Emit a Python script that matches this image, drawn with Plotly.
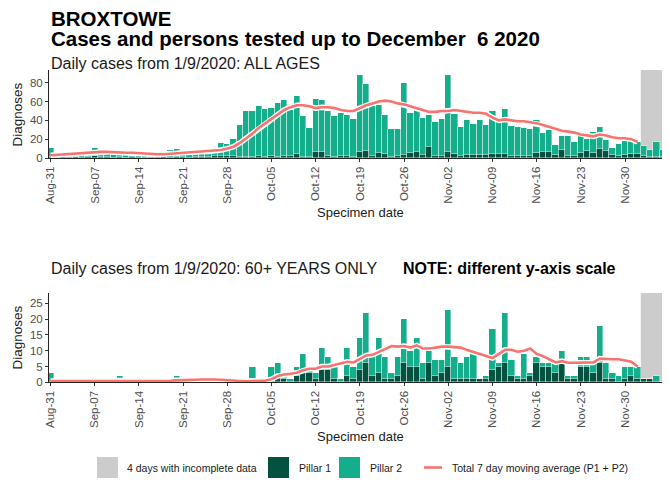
import pandas as pd
import plotly.graph_objects as go

# ---------------- data ----------------
dates = pd.date_range("2020-08-31", "2020-12-06", freq="D")
avg_dates = pd.date_range("2020-08-31", "2020-12-02", freq="D")

tick_dates = pd.date_range("2020-08-31", "2020-12-07", freq="7D")
tick_labels = [d.strftime("%b-%d") for d in tick_dates]

# All ages
all_p1 = [1, 0, 1, 0, 1, 0, 1,
          2, 1, 1, 0, 1, 0, 1,
          0, 0, 0, 0, 1, 0, 1,
          1, 0, 1, 1, 1, 2, 2,
          2, 2, 1, 1, 1, 2, 1,
          2, 1, 2, 2, 4, 1, 1,
          6, 6, 2, 1, 2, 2, 1,
          6, 7, 2, 5, 4, 1, 2,
          3, 5, 6, 3, 12, 2, 2,
          6, 4, 2, 3, 3, 3, 3,
          4, 4, 4, 2, 2, 2, 2,
          5, 6, 6, 3, 8, 2, 2,
          5, 7, 5, 10, 7, 3, 2,
          3, 4, 4, 2, 1, 1, 1]
all_p2 = [10, 4, 3, 5, 4, 6, 4,
          9, 4, 5, 4, 4, 3, 3,
          3, 3, 4, 3, 3, 9, 9,
          3, 5, 5, 5, 6, 6, 14,
          13, 18, 34, 49, 49, 53, 51,
          51, 57, 60, 49, 62, 44, 31,
          57, 56, 48, 44, 46, 44, 40,
          82, 72, 53, 51, 42, 30, 29,
          77, 43, 49, 39, 34, 36, 39,
          82, 43, 31, 37, 33, 37, 32,
          46, 34, 48, 32, 31, 30, 29,
          35, 21, 24, 11, 15, 21, 15,
          18, 13, 23, 23, 12, 8, 13,
          15, 14, 13, 11, 7, 16, 7]
all_avg = [3, 3.5, 4, 4.5, 5, 5.5, 6,
           6.5, 6.5, 6.5, 6, 5.5, 5.5, 5.5,
           5, 4.5, 4, 4, 4, 4.5, 5,
           5.5, 5.5, 6, 6.5, 7, 7.5, 8.5,
           10, 12, 16, 21, 26, 32, 37,
           42, 47, 51, 54, 56, 56, 55,
           53, 54, 54, 53, 51, 50, 50,
           53, 56, 58, 60, 61, 60, 58,
           57, 55, 53, 51, 49, 49, 50,
           50, 51, 50, 49, 48, 48, 47,
           43, 40, 41, 40, 39, 39, 38,
           37, 35, 33, 31, 29, 28, 27,
           25, 24, 23, 25, 24, 22, 21,
           21, 20, 17]

# 60+ years
old_p1 = [0, 0, 0, 0, 0, 0, 0,
          0, 0, 0, 0, 0, 0, 0,
          0, 0, 0, 0, 0, 0, 0,
          0, 0, 0, 0, 0, 0, 0,
          0, 0, 0, 0, 0, 0, 0,
          1, 2, 1, 0, 2, 3, 3,
          1, 4, 4, 1, 0, 2, 1,
          4, 6, 2, 3, 1, 1, 2,
          6, 5, 5, 1, 6, 2, 3,
          5, 1, 1, 1, 1, 1, 1,
          4, 5, 6, 2, 1, 1, 2,
          6, 5, 5, 3, 6, 1, 1,
          5, 5, 3, 6, 1, 1, 0,
          1, 2, 1, 1, 1, 0, 0]
old_p2 = [3, 0, 0, 1, 0, 0, 0,
          0, 1, 0, 0, 2, 0, 0,
          0, 1, 0, 0, 1, 0, 2,
          0, 1, 1, 1, 1, 0, 1,
          0, 0, 0, 0, 5, 0, 0,
          4, 4, 1, 1, 3, 6, 1,
          2, 7, 4, 4, 1, 9, 4,
          10, 16, 7, 11, 7, 2, 6,
          14, 5, 9, 5, 4, 5, 4,
          18, 7, 5, 7, 8, 0, 1,
          13, 1, 16, 5, 1, 8, 1,
          2, 1, 1, 3, 4, 1, 1,
          3, 3, 3, 12, 5, 2, 2,
          4, 3, 4, 0, 0, 2, 0]
old_avg = [0.4, 0.4, 0.4, 0.5, 0.5, 0.5, 0.5,
           0.4, 0.3, 0.3, 0.3, 0.4, 0.4, 0.4,
           0.4, 0.4, 0.4, 0.4, 0.5, 0.5, 0.6,
           0.6, 0.7, 0.8, 0.9, 1.0, 0.9, 0.8,
           0.6, 0.5, 0.4, 0.3, 0.5, 0.5, 0.5,
           1.0, 2.0, 2.5, 2.7, 3.0, 3.8, 4.3,
           4.3, 5.0, 5.0, 5.5, 6.0, 6.5, 6.3,
           7.5, 8.5, 8.7, 9.5, 10.5, 11.5, 11.3,
           11.5, 11.0, 11.7, 10.7, 10.7, 11.0, 11.3,
           11.3, 11.2, 11.0, 10.2, 9.5, 9.0, 8.3,
           7.7, 9.0, 10.3, 10.3, 9.7, 10.0, 10.7,
           9.0, 8.3, 7.3, 6.3, 6.7, 6.2, 6.2,
           6.3, 6.3, 6.3, 7.5, 7.3, 7.3, 7.3,
           7.0, 6.5, 5.0]

incomplete_start = "2020-12-02 12:00"
incomplete_end = "2020-12-06 12:00"

# ---------------- styling ----------------
OFF = 8                      # page body margin in the browser
W, H = 670 - OFF, 485 - OFF  # visible figure size
C_P1 = "#03523F"
C_P2 = "#14AE8C"
C_LINE = "#F8736E"
C_GREY = "#CCCCCC"
FONT = "Liberation Sans, Arial, sans-serif"
TXT = "#4D4D4D"
DARK = "#1a1a1a"


def px(x):
    return (x - OFF) / W


def py(y):
    return 1 - (y - OFF) / H


fig = go.Figure()

for p1, p2, avg, xa, ya in [(all_p1, all_p2, all_avg, "x", "y"),
                            (old_p1, old_p2, old_avg, "x2", "y2")]:
    fig.add_trace(go.Bar(x=dates, y=p1, marker=dict(color=C_P1, line=dict(color="white", width=0.4)),
                         xaxis=xa, yaxis=ya, showlegend=False, name="Pillar 1"))
    fig.add_trace(go.Bar(x=dates, y=p2, marker=dict(color=C_P2, line=dict(color="white", width=0.4)),
                         xaxis=xa, yaxis=ya, showlegend=False, name="Pillar 2"))
    fig.add_trace(go.Scatter(x=avg_dates, y=avg, mode="lines", line=dict(color="white", width=5.5),
                             xaxis=xa, yaxis=ya, showlegend=False, hoverinfo="skip"))
    fig.add_trace(go.Scatter(x=avg_dates, y=avg, mode="lines", line=dict(color=C_LINE, width=2.6),
                             xaxis=xa, yaxis=ya, showlegend=False,
                             name="Total 7 day moving average (P1 + P2)"))

x_range = ["2020-08-30 18:00", "2020-12-07 03:00"]
xcommon = dict(range=x_range, tickvals=tick_dates, ticktext=tick_labels, tickangle=-90,
               ticks="outside", ticklen=3, tickcolor="#333333", showline=True, linecolor="#222222",
               linewidth=1, showgrid=False, zeroline=False, ticklabeloverflow="allow",
               tickfont=dict(family=FONT, size=11.5, color=TXT), automargin=False)
ycommon = dict(ticks="outside", ticklen=3, tickcolor="#333333", showline=True, linecolor="#222222",
               linewidth=1, showgrid=False, zeroline=False,
               tickfont=dict(family=FONT, size=11.5, color=TXT), automargin=False)

fig.update_layout(
    width=W, height=H,
    margin=dict(l=0, r=0, t=0, b=0),
    paper_bgcolor="white", plot_bgcolor="white",
    barmode="stack", bargap=0,
    showlegend=False,
    xaxis=dict(domain=[px(49), 1], anchor="y", **xcommon),
    yaxis=dict(domain=[py(158), py(70)], anchor="x", range=[0, 93.5],
               tickvals=[0, 20, 40, 60, 80], **ycommon),
    xaxis2=dict(domain=[px(49), 1], anchor="y2", **xcommon),
    yaxis2=dict(domain=[py(382.3), py(293)], anchor="x2", range=[0, 28.3],
                tickvals=[0, 5, 10, 15, 20, 25], **ycommon),
)

shapes = []
for xr, yr in [("x", "y domain"), ("x2", "y2 domain")]:
    shapes.append(dict(type="rect", xref=xr, yref=yr, x0=incomplete_start, x1=incomplete_end,
                       y0=0, y1=1, fillcolor=C_GREY, line=dict(width=0), layer="below"))

# legend (manual)
leg_y0, leg_y1 = 457, 478
shapes.append(dict(type="rect", xref="paper", yref="paper", x0=px(97), x1=px(118),
                   y0=py(leg_y1), y1=py(leg_y0), fillcolor=C_GREY, line=dict(width=0)))
shapes.append(dict(type="rect", xref="paper", yref="paper", x0=px(268), x1=px(289),
                   y0=py(leg_y1), y1=py(leg_y0), fillcolor=C_P1, line=dict(width=0)))
shapes.append(dict(type="rect", xref="paper", yref="paper", x0=px(339), x1=px(360),
                   y0=py(leg_y1), y1=py(leg_y0), fillcolor=C_P2, line=dict(width=0)))
shapes.append(dict(type="line", xref="paper", yref="paper", x0=px(424), x1=px(442),
                   y0=py(467.5), y1=py(467.5), line=dict(color=C_LINE, width=2.6)))
fig.update_layout(shapes=shapes)

ann = []


def text(x, y, s, size, bold=False, xanchor="left", angle=0, color="black"):
    ann.append(dict(xref="paper", yref="paper", x=px(x), y=py(y), text=f"<b>{s}</b>" if bold else s,
                    showarrow=False, xanchor=xanchor, yanchor="middle", textangle=angle,
                    font=dict(family=FONT, size=size, color=color)))


text(49, 18, "BROXTOWE", 20.5, bold=True)
text(49, 38.5, "Cases and persons tested up to December\u00a0 6 2020", 20.5, bold=True)
text(49, 63, "Daily cases from 1/9/2020: ALL AGES", 16, color=DARK)
text(49, 268, "Daily cases from 1/9/2020: 60+ YEARS ONLY", 16, color=DARK)
text(401, 268, "NOTE: different y-axis scale", 16, bold=True)
text(16.5, 115, "Diagnoses", 13.5, xanchor="center", angle=-90, color=DARK)
text(16.5, 338, "Diagnoses", 13.5, xanchor="center", angle=-90, color=DARK)
text(360, 212, "Specimen date", 13, xanchor="center", color=DARK)
text(360, 436, "Specimen date", 13, xanchor="center", color=DARK)
text(125, 468, "4 days with incomplete data", 10.5, color=DARK)
text(297, 468, "Pillar 1", 10.5, color=DARK)
text(368, 468, "Pillar 2", 10.5, color=DARK)
text(450, 468, "Total 7 day moving average (P1 + P2)", 10.5, color=DARK)
fig.update_layout(annotations=ann)

fig.write_html("out.html")
